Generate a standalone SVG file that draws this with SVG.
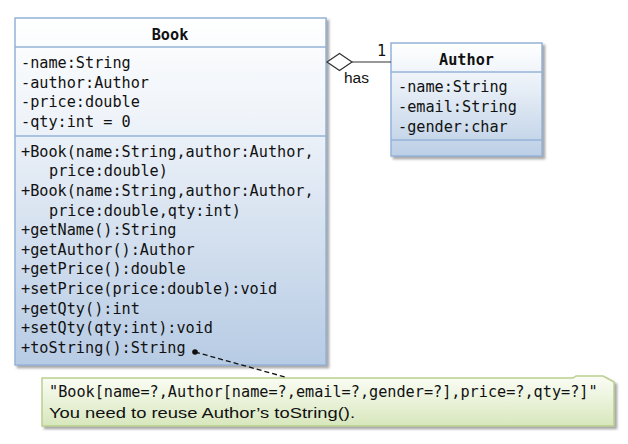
<svg xmlns="http://www.w3.org/2000/svg" width="628" height="444" viewBox="0 0 628 444">
<defs>
  <linearGradient id="blueGrad" x1="0" y1="0" x2="0" y2="1">
    <stop offset="0" stop-color="#ffffff"/>
    <stop offset="0.3" stop-color="#eef3f9"/>
    <stop offset="1" stop-color="#b7cbe4"/>
  </linearGradient>
  <linearGradient id="authGrad" x1="0" y1="0" x2="0" y2="1">
    <stop offset="0" stop-color="#ffffff"/>
    <stop offset="0.3" stop-color="#eef3f9"/>
    <stop offset="1" stop-color="#bccfe6"/>
  </linearGradient>
  <linearGradient id="noteGrad" x1="0" y1="0" x2="0" y2="1">
    <stop offset="0" stop-color="#fbfdf6"/>
    <stop offset="1" stop-color="#d8e7bd"/>
  </linearGradient>
  <filter id="shadow" x="-5%" y="-5%" width="115%" height="115%">
    <feDropShadow dx="2.5" dy="2.5" stdDeviation="1.2" flood-color="#808080" flood-opacity="0.7"/>
  </filter>
  <style>
    .box { stroke: #94b3d8; stroke-width: 1.5; }
    .div { stroke: #94b3d8; stroke-width: 1.5; }
    .mono { font-family: "DejaVu Sans Mono", "Liberation Mono", monospace; font-size: 15.2px; fill: #111; }
    .title { font-family: "DejaVu Sans Mono", "Liberation Mono", monospace; font-size: 15.2px; font-weight: bold; fill: #111; text-anchor: middle; }
    .sans { font-family: "Liberation Sans", Arial, sans-serif; font-size: 15.5px; fill: #111; }
  </style>
</defs>

<g id="Book">
  <rect class="box" x="15" y="18" width="311" height="347" fill="url(#blueGrad)" filter="url(#shadow)"/>
  <line class="div" x1="15" y1="47" x2="326" y2="47"/>
  <line class="div" x1="15" y1="136" x2="326" y2="136"/>
  <text class="title" x="170" y="40">Book</text>
  <text class="mono" x="21" y="68">-name:String</text>
  <text class="mono" x="21" y="88">-author:Author</text>
  <text class="mono" x="21" y="107">-price:double</text>
  <text class="mono" x="21" y="127">-qty:int = 0</text>
  <text class="mono" x="21" y="157">+Book(name:String,author:Author,</text>
  <text class="mono" x="49" y="176">price:double)</text>
  <text class="mono" x="21" y="196">+Book(name:String,author:Author,</text>
  <text class="mono" x="49" y="216">price:double,qty:int)</text>
  <text class="mono" x="21" y="235">+getName():String</text>
  <text class="mono" x="21" y="255">+getAuthor():Author</text>
  <text class="mono" x="21" y="274">+getPrice():double</text>
  <text class="mono" x="21" y="294">+setPrice(price:double):void</text>
  <text class="mono" x="21" y="314">+getQty():int</text>
  <text class="mono" x="21" y="333">+setQty(qty:int):void</text>
  <text class="mono" x="21" y="353">+toString():String</text>
</g>

<g id="Author">
  <rect class="box" x="391" y="43" width="151" height="113" fill="url(#authGrad)" filter="url(#shadow)"/>
  <line class="div" x1="391" y1="72" x2="542" y2="72"/>
  <line class="div" x1="391" y1="140" x2="542" y2="140"/>
  <text class="title" x="466.5" y="65">Author</text>
  <text class="mono" x="398" y="92">-name:String</text>
  <text class="mono" x="398" y="112">-email:String</text>
  <text class="mono" x="398" y="132">-gender:char</text>
</g>

<g id="Note">
  <path d="M42,378 L573,378 L576,376 L603,376 L614,382 L614,426 L42,426 Z" fill="url(#noteGrad)" stroke="#b9d08f" stroke-width="1.5" filter="url(#shadow)"/>
  <text class="mono" x="49" y="397">"Book[name=?,Author[name=?,email=?,gender=?],price=?,qty=?]"</text>
  <text class="sans" x="49" y="418" textLength="306" lengthAdjust="spacingAndGlyphs">You need to reuse Author’s toString().</text>
</g>

<g id="connectors">
  <path d="M327,62 L339.5,53.5 L352,62 L339.5,70.5 Z" fill="#ffffff" stroke="#333" stroke-width="1.2"/>
  <line x1="352" y1="62" x2="391" y2="62" stroke="#333" stroke-width="1.2"/>
  <text class="mono" x="377" y="56">1</text>
  <text class="sans" x="344" y="83">has</text>
  <circle cx="195" cy="352" r="2.8" fill="#111"/>
  <line x1="195" y1="352" x2="285" y2="377" stroke="#111" stroke-width="1.3" stroke-dasharray="5,3"/>
</g>
</svg>
